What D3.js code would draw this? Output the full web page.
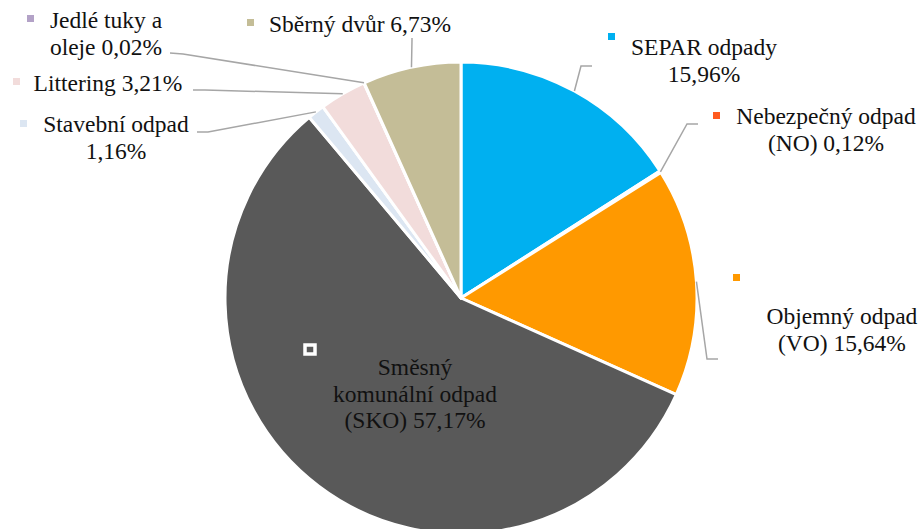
<!DOCTYPE html>
<html>
<head>
<meta charset="utf-8">
<script src="https://cdn.jsdelivr.net/npm/d3@7"></script>
</head>
<body style="margin:0">
<svg id="chart" width="923" height="529" style="font-family: 'Liberation Serif', serif"></svg>
<script>
// data, clockwise from 12 o'clock
var categories = ["SEPAR odpady", "Nebezpečný odpad (NO)", "Objemný odpad (VO)",
    "Směsný komunální odpad (SKO)", "Stavební odpad", "Littering", "Jedlé tuky a oleje", "Sběrný dvůr"]
var values = [15.96, 0.12, 15.64, 57.17, 1.16, 3.21, 0.02, 6.73]
var valueLabels = ["15,96%", "0,12%", "15,64%", "57,17%", "1,16%", "3,21%", "0,02%", "6,73%"]
var labelLines = [
    ["SEPAR odpady", "15,96%"],
    ["Nebezpečný odpad", "(NO) 0,12%"],
    ["Objemný odpad", "(VO) 15,64%"],
    ["Směsný", "komunální odpad", "(SKO) 57,17%"],
    ["Stavební odpad", "1,16%"],
    ["Littering 3,21%"],
    ["Jedlé tuky a", "oleje 0,02%"],
    ["Sběrný dvůr 6,73%"]
]
var colors = ["#00B0F0", "#FF5A1F", "#FF9900", "#595959", "#DCE6F2", "#F2DCDB", "#B3A2C7", "#C4BD97"]

// label layout: text centre x, first baseline y, marker x/y, leader elbow and end (null = no leader)
var layout = [
    { x: 704, y: 55, mx: 608, my: 33, elbow: [581, 66], end: [592, 66] },
    { x: 826, y: 124, mx: 713, my: 112, elbow: [687, 124], end: [698, 124] },
    { x: 842, y: 324, mx: 733, my: 274, elbow: [707, 359], end: [718, 359] },
    { x: 415, y: 375, mx: 303, my: 343, elbow: null, end: null },
    { x: 116, y: 132, mx: 20, my: 120, elbow: [208, 132], end: [197, 132] },
    { x: 108, y: 91, mx: 13, my: 78, elbow: [205, 90], end: [193, 90] },
    { x: 106, y: 28, mx: 27, my: 15, elbow: [183, 54], end: [170, 53] },
    { x: 360, y: 32, mx: 247, my: 19, elbow: [412, 40], end: [412, 38] }
]

var cx = 461, cy = 298, radius = 236

var svg = d3.select("#chart")

var pie = d3.pie().sort(null).value(function(d) { return d })
var arcs = pie(values)

var arc = d3.arc().innerRadius(0).outerRadius(radius)

var g = svg.append("g").attr("transform", "translate(" + cx + "," + cy + ")")

g.selectAll(".slice")
    .data(arcs)
    .enter()
    .append("path")
    .attr("class", "slice")
    .attr("d", arc)
    .attr("fill", function(d, i) { return colors[i] })
    .attr("stroke", "#fff")
    .attr("stroke-width", 3)
    .attr("stroke-linejoin", "round")

// leader lines start on the rim at the slice mid-angle
var line = d3.line()
arcs.forEach(function(d, i) {
    var L = layout[i]
    if (!L.elbow) return
    var a = (d.startAngle + d.endAngle) / 2
    var p = [cx + radius * Math.sin(a), cy - radius * Math.cos(a)]
    svg.append("path")
        .attr("d", line([p, L.elbow, L.end]))
        .attr("fill", "none")
        .attr("stroke", "#A6A6A6")
        .attr("stroke-width", 1.5)
})

// label texts
layout.forEach(function(L, i) {
    var t = svg.append("text")
        .attr("x", L.x)
        .attr("y", L.y)
        .attr("text-anchor", "middle")
        .style("font-family", "\"Liberation Serif\"")
        .style("font-size", "23.5px")
        .style("fill", "#111")
    labelLines[i].forEach(function(s, j) {
        t.append("tspan")
            .attr("x", L.x)
            .attr("dy", j == 0 ? 0 : 26.5)
            .text(s)
    })

    // legend key marker
    if (i == 3) {
        svg.append("rect")
            .attr("x", L.mx + 2)
            .attr("y", L.my + 2)
            .attr("width", 10)
            .attr("height", 9)
            .attr("fill", colors[i])
            .attr("stroke", "#fff")
            .attr("stroke-width", 3.5)
    } else {
        svg.append("rect")
            .attr("x", L.mx)
            .attr("y", L.my)
            .attr("width", 7)
            .attr("height", 7)
            .attr("fill", colors[i])
    }
})
</script>
</body>
</html>
